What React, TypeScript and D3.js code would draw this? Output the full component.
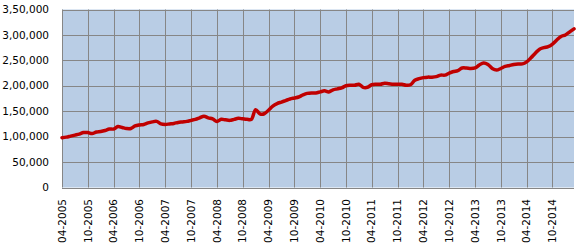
import React from "react";
import * as d3 from "d3";

const startYear = 2005;
const startMonth = 4;
const categories: string[] = Array.from({ length: 120 }, (_, i) => {
  const m = ((startMonth - 1 + i) % 12) + 1;
  const y = startYear + Math.floor((startMonth - 1 + i) / 12);
  return `${String(m).padStart(2, "0")}-${y}`;
});

const tickLabels = [
  "04-2005", "10-2005", "04-2006", "10-2006", "04-2007", "10-2007",
  "04-2008", "10-2008", "04-2009", "10-2009", "04-2010", "10-2010",
  "04-2011", "10-2011", "04-2012", "10-2012", "04-2013", "10-2013",
  "04-2014", "10-2014",
];

const values = [
  98000, 99000, 101000, 103000, 105000, 108000, 108000, 106000, 109000, 110000, 112000, 115000,
  115000, 120000, 118000, 116000, 116000, 121000, 123000, 124000, 127000, 129000, 130000, 125000,
  124000, 125000, 126000, 128000, 129000, 130000, 132000, 134000, 137000, 140000,
  137000, 135000, 130000, 134000, 133000, 132000, 134000, 136000, 135000, 134000,
  134000, 153000, 145000, 145000, 152000, 160000,
  165000, 168000, 171000, 174000, 176000, 178000, 182000, 185000, 186000, 186000,
  188000, 190000, 188000, 192000, 194000, 196000, 200000, 201000, 201000, 203000,
  197000, 197000, 202000, 203000,
  203000, 205000, 204000, 203000, 203000, 203000, 201000, 202000, 211000, 214000,
  216000, 217000, 217000, 218000, 221000, 221000, 225000, 228000, 230000, 235000,
  235000, 234000, 235000, 241000,
  245000, 242000, 234000, 231000, 234000, 238000, 240000, 242000, 243000, 243000,
  247000, 255000, 264000, 272000, 275000, 277000, 282000, 290000, 297000, 300000,
  306000, 312000,
];

const yTicks = [0, 50000, 100000, 150000, 200000, 250000, 300000, 350000];
const yTickLabels = ["0", "50,000", "1,00,000", "1,50,000", "2,00,000", "2,50,000", "3,00,000", "3,50,000"];

export default function App() {
  const W = 578, H = 252;
  const left = 62, right = 574, top = 9.5, bottom = 187.5;
  const x = d3.scalePoint<string>().domain(categories).range([left, right]);
  const y = d3.scaleLinear().domain([0, 350000]).range([bottom, top]);
  const line = d3
    .line<number>()
    .x((_, i) => x(categories[i]) as number)
    .y((d) => y(d))
    .curve(d3.curveCatmullRom.alpha(0.5));
  const font = "'DejaVu Sans', Verdana, sans-serif";
  return (
    <svg width={W} height={H} style={{ position: "absolute", left: 0, top: 0, display: "block" }}>
      <rect x={left} y={top} width={right - left} height={bottom - top} fill="#B9CDE5" />
      {yTicks.map((t) => (
        <line key={"h" + t} x1={left} x2={right} y1={Math.round(y(t)) + 0.5} y2={Math.round(y(t)) + 0.5} stroke="#868686" strokeWidth={1} />
      ))}
      {tickLabels.map((c) => {
        const xx = Math.round(x(c) as number) + 0.5;
        return <line key={"v" + c} x1={xx} x2={xx} y1={top} y2={bottom} stroke="#868686" strokeWidth={1} />;
      })}
      <path d={line(values) || ""} fill="none" stroke="#C00000" strokeWidth={3.5} strokeLinejoin="round" strokeLinecap="round" />
      {yTicks.map((t, i) => (
        <text key={"yl" + t} x={49} y={y(t)} dy="0.35em" textAnchor="end" fontFamily={font} fontSize={10.5} fill="#000">
          {yTickLabels[i]}
        </text>
      ))}
      {tickLabels.map((c) => {
        const xx = x(c) as number;
        return (
          <text key={"xl" + c} transform={`translate(${xx},199) rotate(-90)`} dy="0.35em" textAnchor="end" fontFamily={font} fontSize={10.5} fill="#000">
            {c}
          </text>
        );
      })}
    </svg>
  );
}
